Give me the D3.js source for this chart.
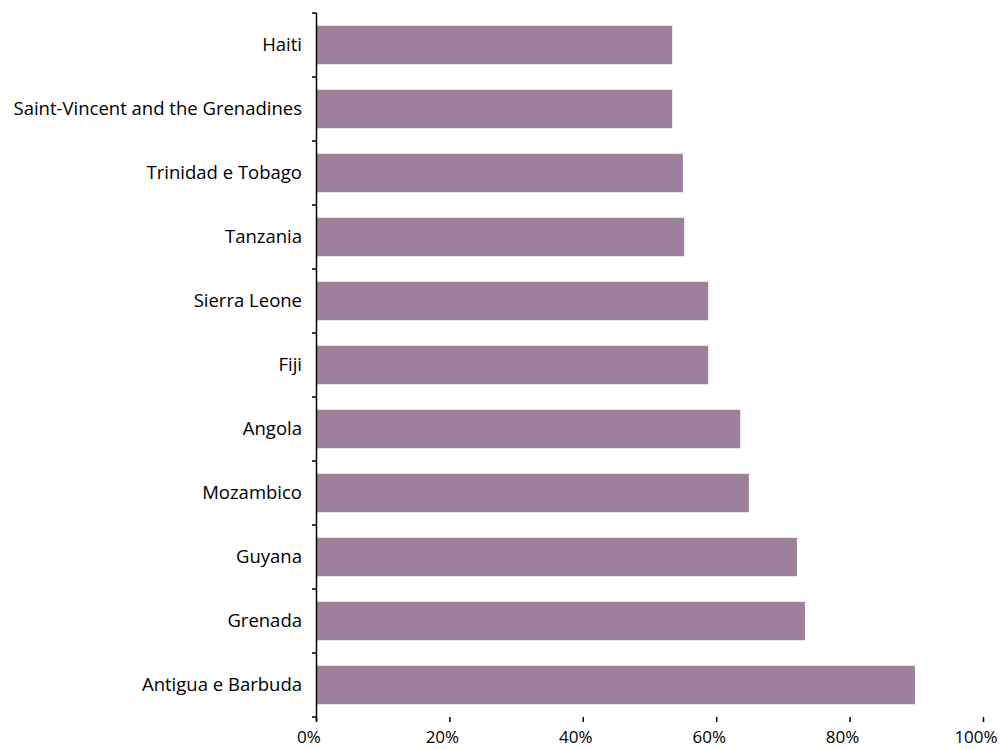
<!DOCTYPE html>
<html>
<head>
<meta charset="utf-8">
<script src="https://cdn.jsdelivr.net/npm/d3@7"></script>
<style>
  html, body { margin: 0; padding: 0; background: #fff; }
  svg text { font-family: "Open Sans", Lato, sans-serif; fill: #000; }
</style>
</head>
<body>
<svg id="chart" width="1004" height="749"></svg>
<script>
const categories = ["Haiti", "Saint-Vincent and the Grenadines", "Trinidad e Tobago", "Tanzania", "Sierra Leone", "Fiji", "Angola", "Mozambico", "Guyana", "Grenada", "Antigua e Barbuda"];
const values = [53.4, 53.4, 55.0, 55.2, 58.8, 58.8, 63.6, 64.9, 72.1, 73.3, 89.8];
const xTicks = [0, 20, 40, 60, 80, 100];

(function () {
const svg = d3.select("#chart");
const mLeft = 316, mRight = 983, mTop = 13, mBottom = 717;

const x = d3.scaleLinear().domain([0, 100]).range([mLeft, mRight]);
const y = d3.scaleBand().domain(categories).range([mTop, mBottom]).paddingInner(0.4).paddingOuter(0.2);

svg.append("g").selectAll("rect").data(categories).join("rect")
  .attr("x", x(0))
  .attr("y", d => y(d))
  .attr("width", (d, i) => x(values[i]) - x(0))
  .attr("height", y.bandwidth())
  .attr("fill", "#9d809d");

// y axis line
svg.append("line").attr("x1", mLeft + 0.5).attr("x2", mLeft + 0.5)
  .attr("y1", mTop).attr("y2", mBottom + 4).attr("stroke", "#000").attr("stroke-width", 1.5);

// y ticks at band edges
const step = (mBottom - mTop) / categories.length;
const edges = d3.range(categories.length + 1).map(i => mTop + i * step);
svg.append("g").selectAll("line").data(edges).join("line")
  .attr("x1", mLeft - 4).attr("x2", mLeft + 0.5)
  .attr("y1", d => d).attr("y2", d => d)
  .attr("stroke", "#000").attr("stroke-width", 1.5);

// y labels
svg.append("g").selectAll("text").data(categories).join("text")
  .attr("x", mLeft - 14)
  .attr("y", d => y(d) + y.bandwidth() / 2)
  .attr("dy", "0.35em")
  .attr("text-anchor", "end")
  .attr("font-size", 18.5)
  .text(d => d);

// x ticks
const xg = svg.append("g");
xg.selectAll("line").data(xTicks).join("line")
  .attr("x1", d => x(d) + 0.5).attr("x2", d => x(d) + 0.5)
  .attr("y1", mBottom).attr("y2", mBottom + 5)
  .attr("stroke", "#000").attr("stroke-width", 1.5);
xg.selectAll("text").data(xTicks).join("text")
  .attr("x", d => x(d) - 7)
  .attr("y", 743)
  .attr("text-anchor", "middle")
  .attr("font-size", 17)
  .text(d => d + "%");
})();
</script>
</body>
</html>
